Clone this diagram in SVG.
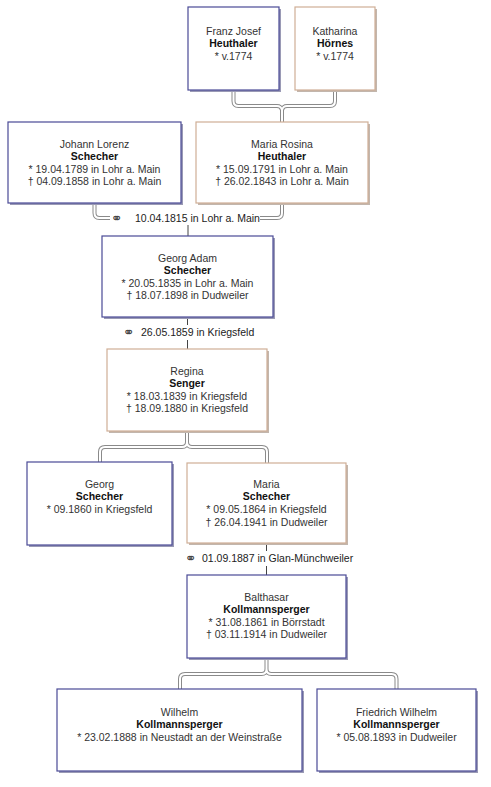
<svg xmlns="http://www.w3.org/2000/svg" xmlns:xlink="http://www.w3.org/1999/xlink" width="491" height="787" viewBox="0 0 491 787">
<style>
text{font-family:"Liberation Sans",Arial,sans-serif;font-size:10.5px;fill:#333;text-anchor:middle}
text.b{font-weight:bold;fill:#111}
text.ml{text-anchor:start;fill:#222}
text.sym{font-family:"DejaVu Sans",sans-serif;font-size:14px;text-anchor:start;fill:#444}
rect.m{fill:#fff;stroke:#4a4a96;stroke-width:1.2}
rect.f{fill:#fff;stroke:#cfae96;stroke-width:1.2}
rect.ms{fill:#9a9ab5}
rect.fs{fill:#c2b6ad}
.o{fill:none;stroke:#8a8a8a;stroke-width:4}
.i{fill:none;stroke:#fff;stroke-width:2}
.t{fill:none;stroke:#444;stroke-width:1}
</style>
<defs>
<path id="c1" d="M233.5,90 V101 Q233.5,106 238.5,106 H277 Q281,106 282,110 Q283,106 287,106 H330 Q335,106 335,101 V90 M282,110 V122"/>
<path id="c2" d="M94.5,203 V213 Q94.5,218 99.5,218 H110"/>
<path id="c3" d="M260,218 H277 Q282,218 282,213 V203"/>
<path id="c4" d="M187,431 V442 Q187,447 182,447 H105 Q100,447 100,452 V462 M187,442 Q187,447 192,447 H262 Q267,447 267,452 V463"/>
<path id="c5" d="M266.5,658 V669 Q266.5,674 261.5,674 H185 Q180,674 180,679 V689 M266.5,669 Q266.5,674 271.5,674 H391.5 Q396.5,674 396.5,679 V689"/>
</defs>
<g id="connectors">
<use xlink:href="#c1" class="o"/><use xlink:href="#c1" class="i"/>
<use xlink:href="#c2" class="o"/><use xlink:href="#c2" class="i"/>
<use xlink:href="#c3" class="o"/><use xlink:href="#c3" class="i"/>
<use xlink:href="#c4" class="o"/><use xlink:href="#c4" class="i"/>
<use xlink:href="#c5" class="o"/><use xlink:href="#c5" class="i"/>
<path class="t" d="M188,225 V236"/>
<path class="t" d="M187.5,317 V325 M187.5,340 V349"/>
<path class="t" d="M266.5,543 V551 M266.5,566 V575"/>
<text class="sym" x="111" y="223">⚭</text>
<text class="ml" x="135" y="222">10.04.1815 in Lohr a. Main</text>
<text class="sym" x="123" y="337">⚭</text>
<text class="ml" x="141" y="336">26.05.1859 in Kriegsfeld</text>
<text class="sym" x="185" y="563">⚭</text>
<text class="ml" x="202" y="562">01.09.1887 in Glan-Münchweiler</text>
</g>
<g id="franz">
<rect class="ms" x="190" y="9" width="91" height="83"/><rect class="m" x="188" y="7" width="91" height="83"/>
<text x="233.5" y="35">Franz Josef</text><text class="b" x="233.5" y="47.3">Heuthaler</text><text x="233.5" y="59.6">* v.1774</text>
</g>
<g id="katharina">
<rect class="fs" x="297" y="9" width="80" height="83"/><rect class="f" x="295" y="7" width="80" height="83"/>
<text x="335" y="35">Katharina</text><text class="b" x="335" y="47.3">Hörnes</text><text x="335" y="59.6">* v.1774</text>
</g>
<g id="johann">
<rect class="ms" x="10" y="124" width="173" height="81"/><rect class="m" x="8" y="122" width="173" height="81"/>
<text x="94.5" y="148">Johann Lorenz</text><text class="b" x="94.5" y="160.3">Schecher</text><text x="94.5" y="172.6">* 19.04.1789 in Lohr a. Main</text><text x="94.5" y="184.9">† 04.09.1858 in Lohr a. Main</text>
</g>
<g id="maria_rosina">
<rect class="fs" x="198" y="124" width="172" height="81"/><rect class="f" x="196" y="122" width="172" height="81"/>
<text x="282" y="148">Maria Rosina</text><text class="b" x="282" y="160.3">Heuthaler</text><text x="282" y="172.6">* 15.09.1791 in Lohr a. Main</text><text x="282" y="184.9">† 26.02.1843 in Lohr a. Main</text>
</g>
<g id="georg_adam">
<rect class="ms" x="104" y="238" width="171" height="81"/><rect class="m" x="102" y="236" width="171" height="81"/>
<text x="187.5" y="262">Georg Adam</text><text class="b" x="187.5" y="274.3">Schecher</text><text x="187.5" y="286.6">* 20.05.1835 in Lohr a. Main</text><text x="187.5" y="298.9">† 18.07.1898 in Dudweiler</text>
</g>
<g id="regina">
<rect class="fs" x="109" y="351" width="160" height="82"/><rect class="f" x="107" y="349" width="160" height="82"/>
<text x="187" y="375">Regina</text><text class="b" x="187" y="387.3">Senger</text><text x="187" y="399.6">* 18.03.1839 in Kriegsfeld</text><text x="187" y="411.9">† 18.09.1880 in Kriegsfeld</text>
</g>
<g id="georg">
<rect class="ms" x="29" y="464" width="145" height="83"/><rect class="m" x="27" y="462" width="145" height="83"/>
<text x="99.5" y="487.5">Georg</text><text class="b" x="99.5" y="500.3">Schecher</text><text x="99.5" y="513">* 09.1860 in Kriegsfeld</text>
</g>
<g id="maria">
<rect class="fs" x="189" y="465" width="159" height="80"/><rect class="f" x="187" y="463" width="159" height="80"/>
<text x="266.5" y="487.5">Maria</text><text class="b" x="266.5" y="500.3">Schecher</text><text x="266.5" y="513">* 09.05.1864 in Kriegsfeld</text><text x="266.5" y="525.6">† 26.04.1941 in Dudweiler</text>
</g>
<g id="balthasar">
<rect class="ms" x="189" y="577" width="159" height="83"/><rect class="m" x="187" y="575" width="159" height="83"/>
<text x="266.5" y="601">Balthasar</text><text class="b" x="266.5" y="613.3">Kollmannsperger</text><text x="266.5" y="625.6">* 31.08.1861 in Börrstadt</text><text x="266.5" y="637.9">† 03.11.1914 in Dudweiler</text>
</g>
<g id="wilhelm">
<rect class="ms" x="59" y="691" width="245" height="82"/><rect class="m" x="57" y="689" width="245" height="82"/>
<text x="179.5" y="716">Wilhelm</text><text class="b" x="179.5" y="728.3">Kollmannsperger</text><text x="179.5" y="740.6">* 23.02.1888 in Neustadt an der Weinstraße</text>
</g>
<g id="friedrich">
<rect class="ms" x="319" y="691" width="159" height="82"/><rect class="m" x="317" y="689" width="159" height="82"/>
<text x="396.5" y="716">Friedrich Wilhelm</text><text class="b" x="396.5" y="728.3">Kollmannsperger</text><text x="396.5" y="740.6">* 05.08.1893 in Dudweiler</text>
</g>
</svg>
